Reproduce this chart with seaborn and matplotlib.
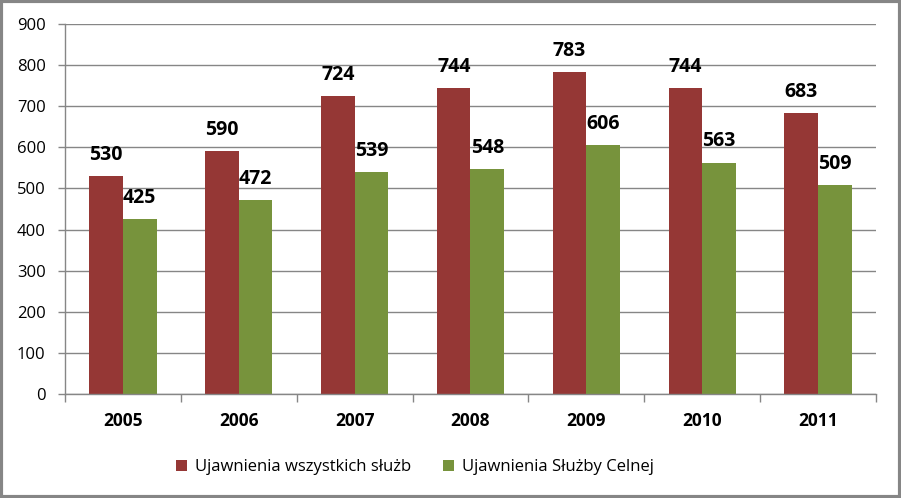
import matplotlib
matplotlib.use("Agg")
import matplotlib.pyplot as plt
import seaborn as sns
import pandas as pd
from matplotlib.patches import Rectangle

years = ["2005", "2006", "2007", "2008", "2009", "2010", "2011"]
all_services = [530, 590, 724, 744, 783, 744, 683]
customs = [425, 472, 539, 548, 606, 563, 509]
series_names = ["Ujawnienia wszystkich służb", "Ujawnienia Służby Celnej"]
colors = ["#953735", "#77933C"]

df = pd.DataFrame({
    "Rok": years * 2,
    "Wartość": all_services + customs,
    "Seria": [series_names[0]] * len(years) + [series_names[1]] * len(years),
})

sns.set_theme(style="white")
plt.rcParams["font.family"] = ["Open Sans", "DejaVu Sans"]
plt.rcParams["text.color"] = "black"
plt.rcParams["xtick.labelcolor"] = "black"
plt.rcParams["ytick.labelcolor"] = "black"

fig = plt.figure(figsize=(9.01, 4.98), dpi=100)
ax = fig.add_axes([65 / 901, 1 - 394 / 498, (876 - 65) / 901, (394 - 24) / 498])

sns.barplot(data=df, x="Rok", y="Wartość", hue="Seria", palette=colors,
            width=0.58, gap=0, ax=ax, saturation=1, edgecolor="none",
            linewidth=0, errorbar=None)

grid_c = "#868686"
ax.set_ylim(0, 900)
ax.set_xlim(-0.5, 6.5)
ax.set_yticks(range(0, 901, 100))
ax.yaxis.grid(True, color=grid_c, linewidth=1)
ax.set_axisbelow(True)
ax.set_xlabel("")
ax.set_ylabel("")
for s in ["top", "right"]:
    ax.spines[s].set_visible(False)
for s in ["left", "bottom"]:
    ax.spines[s].set_color(grid_c)
    ax.spines[s].set_linewidth(1)

ax.tick_params(axis="y", which="major", length=5, color=grid_c, width=1,
               labelsize=12, pad=9, left=True, labelcolor="black")
ax.tick_params(axis="x", which="major", length=0, labelsize=12.5, pad=13,
               labelcolor="black")
ax.set_xticks([i - 0.5 for i in range(len(years) + 1)], minor=True)
ax.tick_params(axis="x", which="minor", length=5.5, color=grid_c, width=1, bottom=True)
for lbl in ax.get_xticklabels():
    lbl.set_fontweight("bold")

for cont in ax.containers:
    ax.bar_label(cont, padding=8, fontsize=14, fontweight="bold", color="black")

leg = ax.legend(loc="center", bbox_to_anchor=(415 / 901, 1 - 467 / 498),
                bbox_transform=fig.transFigure, ncol=2, frameon=False,
                fontsize=12, handlelength=0.65, handleheight=0.65,
                handletextpad=0.5, columnspacing=1.9, labelcolor="black")

fig.patches.append(Rectangle((0.0015, 0.003), 0.997, 0.994, transform=fig.transFigure,
                             fill=False, edgecolor=grid_c, linewidth=3))

fig.savefig("out.png", dpi=100, facecolor="white")
